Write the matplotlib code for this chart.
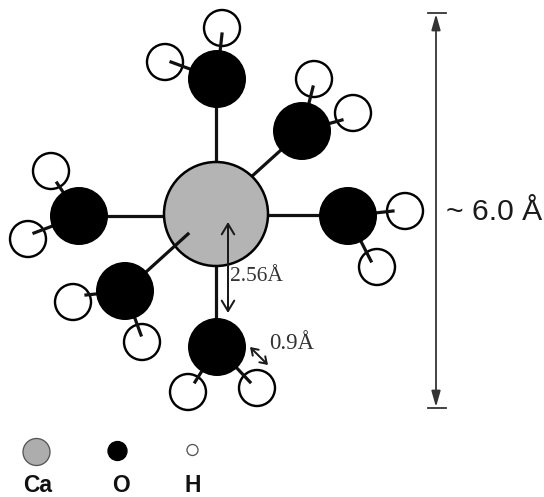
import matplotlib
matplotlib.use('Agg')
import matplotlib.pyplot as plt
from matplotlib.patches import Circle

# everything is in image pixels, y going down
PX = 0.72

ca_center = (216, 214)
ca_radius = 52

o_centers = [(217, 79), (302, 131), (348, 216), (217, 347), (125, 291), (79, 216)]
o_radii = [29, 29, 29, 29, 29, 29]

h_centers = [(222, 28), (165, 62), (314, 79), (353, 113), (405, 211),
             (377, 267), (188, 392), (257, 388), (73, 302), (142, 342),
             (51, 171), (28, 239)]
h_radii = [18] * 12

# Ca-O bonds
ca_bonds = [((216, 79), (216, 162)), ((250, 178), (302, 131)),
            ((268, 215), (348, 215)), ((216, 266), (216, 347)),
            ((79, 216), (164, 216)), ((188, 234), (125, 291))]

# O-H bonds, ending a little inside the H circle
oh_bonds = [((217, 79), (222, 34)), ((217, 79), (171, 62)),
            ((302, 131), (313, 87)), ((302, 131), (342, 120)),
            ((348, 216), (393, 211)), ((348, 216), (371, 261)),
            ((217, 347), (195, 382)), ((217, 347), (250, 382)),
            ((125, 291), (86, 295)), ((125, 291), (141, 335)),
            ((79, 216), (57, 183)), ((79, 216), (34, 233))]

legend_names = ['Ca', 'O', 'H']
legend_x = [36.5, 117.5, 192.5]
legend_y = [452, 451, 450]
legend_r = [13.5, 9.5, 5.5]
legend_fill = ['#adadad', 'black', 'white']
label_x = [38, 121, 193]

fig = plt.figure(figsize=(5.44, 4.97), dpi=100)
ax = fig.add_axes([0, 0, 1, 1])
ax.set_xlim(0, 544)
ax.set_ylim(497, 0)
ax.set_aspect('equal')
ax.axis('off')

# bonds first, atoms on top of them
for a, b in ca_bonds[:-1]:
    ax.plot([a[0], b[0]], [a[1], b[1]], color='#111111', lw=3.2 * PX, zorder=1)
ax.add_patch(Circle(ca_center, ca_radius, fc='#b4b4b4', ec='black', lw=2.5 * PX, zorder=2))
a, b = ca_bonds[-1]
ax.plot([a[0], b[0]], [a[1], b[1]], color='#111111', lw=3.2 * PX, zorder=3)

for c, r in zip(h_centers, h_radii):
    ax.add_patch(Circle(c, r, fc='white', ec='black', lw=2.4 * PX, zorder=3))
for a, b in oh_bonds:
    ax.plot([a[0], b[0]], [a[1], b[1]], color='#111111', lw=3.2 * PX, zorder=4)
for c, r in zip(o_centers, o_radii):
    ax.add_patch(Circle(c, r, fc='black', ec='black', lw=0, zorder=5))


def dim_arrow(x0, y0, x1, y1, color, lw, style):
    ax.annotate('', xy=(x1, y1), xytext=(x0, y0), zorder=6,
                arrowprops=dict(arrowstyle=style, color=color, lw=lw,
                                shrinkA=0, shrinkB=0))


dim_arrow(228, 222, 228, 313, '#1a1a1a', 2 * PX, '<->,head_length=0.75,head_width=0.45')
dim_arrow(250, 347, 268, 365, '#1a1a1a', 2 * PX, '<->,head_length=0.45,head_width=0.3')

# the 6 A bar, with caps
dim_arrow(436, 14, 436, 407, '#333333', 1.8 * PX, '<|-|>,head_length=0.95,head_width=0.27')
ax.plot([428, 446], [13, 13], color='#333333', lw=1.8 * PX, zorder=6)
ax.plot([428, 446], [408, 408], color='#333333', lw=1.8 * PX, zorder=6)

ax.text(230, 281, '2.56Å', family='Liberation Serif', fontsize=15.5, color='#333333',
        ha='left', va='baseline', zorder=7)
ax.text(269, 349, '0.9Å', family='Liberation Serif', fontsize=16.5, color='#333333',
        ha='left', va='baseline', zorder=7)
ax.text(446, 220, '~ 6.0 Å', family='Liberation Sans', fontsize=21.7, color='#1a1a1a',
        ha='left', va='baseline', zorder=7)

# key at the bottom
for name, x, y, r, fill, lx in zip(legend_names, legend_x, legend_y, legend_r, legend_fill, label_x):
    edge = '#555555' if fill != 'black' else 'black'
    ax.add_patch(Circle((x, y), r, fc=fill, ec=edge, lw=1.3 * PX))
    ax.text(lx, 496.5, name, family='Liberation Sans', fontweight='bold', fontsize=16.5,
            color='#111111', ha='center', va='bottom')

fig.savefig('out.png', dpi=100)
